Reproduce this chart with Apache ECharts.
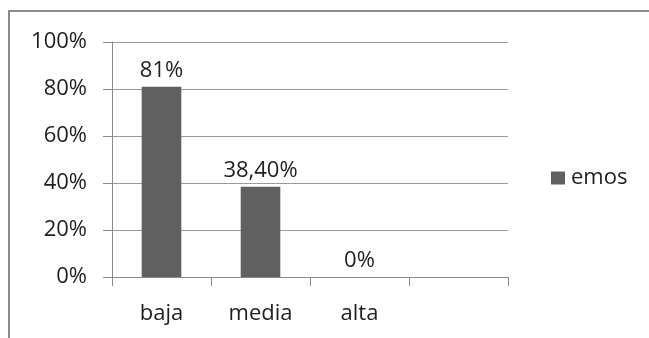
<!DOCTYPE html>
<html>
<head>
<meta charset="utf-8">
<script src="https://cdn.jsdelivr.net/npm/echarts@6/dist/echarts.min.js"></script>
<style>
  html, body { margin: 0; padding: 0; background: #fff; }
  #chart { width: 649px; height: 338px; }
</style>
</head>
<body>
<div id="chart"></div>
<script>
// Category axis: three levels plus an empty trailing slot
const categories = ['baja', 'media', 'alta', ''];
// Share per level, in percent
const emosValues = [81, 38.4, 0, null];
const seriesName = 'emos';
// Value axis ticks (percent)
const yTicks = [0, 20, 40, 60, 80, 100];

const FONT = '"Open Sans", sans-serif';
const TEXT = '#1e1e1e';
const FS = 22;

function pctLabel(v) {
  if (v == null) return '';
  return Number.isInteger(v) ? v + '%' : v.toFixed(2).replace('.', ',') + '%';
}

const chart = echarts.init(document.getElementById('chart'), null, { renderer: 'canvas' });
chart.setOption({
  animation: false,
  backgroundColor: '#ffffff',
  textStyle: { fontFamily: FONT },
  graphic: [{
    type: 'rect',
    shape: { x: 9, y: 11, width: 800, height: 500 },
    style: { fill: 'none', stroke: '#8a8a8a', lineWidth: 2 },
    silent: true
  }],
  grid: { left: 112, right: 141, top: 42, bottom: 61, containLabel: false },
  legend: {
    data: [seriesName],
    left: 551, top: 167, padding: 0,
    itemWidth: 14, itemHeight: 13, itemGap: 6,
    icon: 'rect',
    textStyle: { fontFamily: FONT, fontSize: FS, color: TEXT, padding: [0, 0, 0, 1] }
  },
  xAxis: {
    type: 'category',
    data: categories,
    boundaryGap: true,
    axisLine: { lineStyle: { color: '#8a8a8a', width: 1 } },
    axisTick: { show: true, length: 9, lineStyle: { color: '#8a8a8a' } },
    axisLabel: { fontFamily: FONT, fontSize: FS, color: TEXT, margin: 26 },
    splitLine: { show: false }
  },
  yAxis: {
    type: 'value',
    min: yTicks[0], max: yTicks[yTicks.length - 1], interval: 20,
    axisLine: { show: true, lineStyle: { color: '#8a8a8a', width: 1 } },
    axisTick: { show: true, length: 9, lineStyle: { color: '#8a8a8a' } },
    axisLabel: { fontFamily: FONT, fontSize: FS, color: TEXT, margin: 25, formatter: v => v + '%' },
    splitLine: { show: true, lineStyle: { color: '#9a9a9a', width: 1 } }
  },
  series: [{
    name: seriesName,
    type: 'bar',
    data: emosValues,
    barWidth: '40%',
    itemStyle: { color: '#606060' },
    label: {
      show: true, position: 'top', distance: 5,
      fontFamily: FONT, fontSize: FS, color: TEXT,
      formatter: p => pctLabel(p.value)
    }
  }]
});
</script>
</body>
</html>
